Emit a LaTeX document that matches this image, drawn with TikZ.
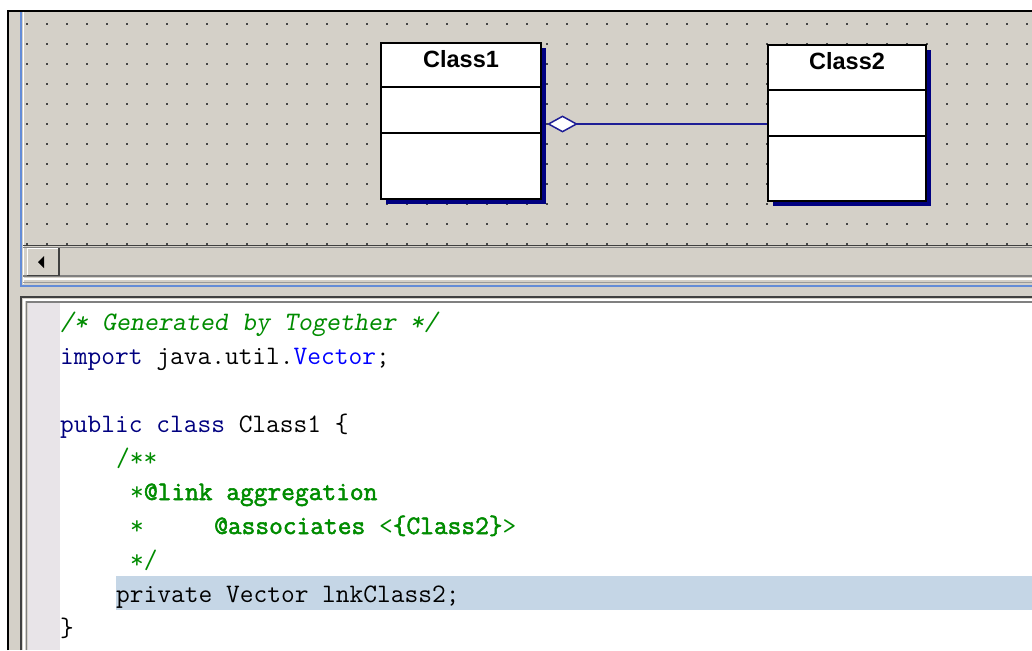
\documentclass[tikz,border=0pt]{standalone}
\usepackage{fontspec}
\setmainfont{Liberation Sans}
\newfontfamily\codeheavy{Latin Modern Mono}[FakeBold=2]
\usetikzlibrary{arrows.meta,calc,shadows}
\definecolor{wingray}{RGB}{212,208,200}
\definecolor{dotgray}{RGB}{70,70,70}
\definecolor{darkedge}{RGB}{64,64,64}
\definecolor{midedge}{RGB}{128,128,128}
\definecolor{frameblue}{RGB}{100,140,215}
\definecolor{shadowblue}{RGB}{0,0,128}
\definecolor{linkblue}{RGB}{30,30,150}
\definecolor{gutter}{RGB}{232,228,232}
\definecolor{hilite}{RGB}{197,214,230}
\definecolor{cgreen}{RGB}{0,140,0}
\definecolor{kwnavy}{RGB}{0,0,128}
\definecolor{typeblue}{RGB}{0,0,255}
\newcommand{\hv}[1]{{\codeheavy\fontsize{26.67}{30}\selectfont #1}}
\tikzset{
  classbox/.style={rectangle, draw=black, line width=2pt, fill=white, inner sep=0pt,
    drop shadow={shadow xshift=5pt, shadow yshift=-5pt, fill=shadowblue, opacity=1}},
  divider/.style={line width=1.5pt, black},
  classtitle/.style={anchor=base, inner sep=0pt, font=\fontsize{23.5}{24}\selectfont\bfseries},
  assoc/.style={linkblue, line width=1.5pt, -{Diamond[fill=white, length=31pt, width=17pt]}},
  code/.style={anchor=base west, inner sep=0pt, font=\ttfamily\fontsize{26.67}{30}\selectfont},
  griddot/.style={fill=dotgray}
}
\begin{document}
\begin{tikzpicture}[x=1pt,y=-1pt]
\useasboundingbox (0,0) rectangle (1032,650);
\fill[white] (0,0) rectangle (1032,650);
% window background
\fill[wingray] (8,11) rectangle (1032,650);
\draw[black, line width=2.2pt] (8,650) -- (8,11) -- (1032,11);
% grid dots
\foreach \gx in {27,47,...,1027} {
  \foreach \gy in {24,44,...,244} {
    \fill[griddot] (\gx-1,\gy-1) rectangle (\gx+1,\gy+1);
  }
}
% diagram frame
\draw[frameblue, line width=2pt] (21,12) -- (21,286) -- (1032,286);
\draw[white, line width=1pt] (23.5,12) -- (23.5,283.5);
% scrollbar
\draw[darkedge, line width=1.5pt] (23,245.5) -- (1032,245.5);
\draw[midedge, line width=1pt] (23,247.5) -- (1032,247.5);
\draw[midedge, line width=1.5pt] (23,276) -- (1032,276);
\draw[white, line width=1.5pt] (23,279) -- (1032,279);
\draw[midedge!80, line width=1pt] (23,282.5) -- (1032,282.5);
% scroll button
\fill[wingray] (27,248) rectangle (60,275);
\draw[white, line width=1pt] (27.5,275) -- (27.5,248.5) -- (59,248.5);
\draw[darkedge, line width=1.5pt] (59,248) -- (59,275.5) -- (27,275.5);
\fill[black] (44,256) -- (38,262) -- (44,268) -- cycle;
% code panel frame
\draw[darkedge, line width=2pt] (20.5,650) -- (20.5,296.5) -- (1032,296.5);
\draw[white, line width=2pt] (23.5,650) -- (23.5,299.5) -- (1032,299.5);
\draw[midedge, line width=1.5pt] (26.5,650) -- (26.5,302) -- (1032,302);
\fill[gutter] (27.5,303) rectangle (60,650);
\fill[white] (60,303) rectangle (1032,650);
% highlighted line
\fill[hilite] (116,576) rectangle (1032,610);
% classes
\node[classbox, minimum width=160pt, minimum height=156pt] (c1) at (461,121) {};
\node[classbox, minimum width=158pt, minimum height=156pt] (c2) at (847,123) {};
\draw[divider] ($(c1.north west)+(0,45)$) -- ($(c1.north east)+(0,45)$);
\draw[divider] ($(c1.north west)+(0,91)$) -- ($(c1.north east)+(0,91)$);
\draw[divider] ($(c2.north west)+(0,46)$) -- ($(c2.north east)+(0,46)$);
\draw[divider] ($(c2.north west)+(0,92)$) -- ($(c2.north east)+(0,92)$);
\node[classtitle] (t1) at ($(c1.north)+(0,26)$) {Class1};
\node[classtitle] (t2) at ($(c2.north)+(0,26)$) {Class2};
% aggregation
\draw[assoc] ($(c2.west)+(0,1)$) -- ($(c1.east)+(5,3)$);
% code
\node[code] (l1) at (60,330) {\color{cgreen}\slshape /* Generated by Together */};
\node[code] (l2) at (60,364) {\textcolor{kwnavy}{import} java.util.\textcolor{typeblue}{Vector};};
\node[code] (l4) at (60,432) {\textcolor{kwnavy}{public class} Class1 \{};
\node[code] (l5) at (116,466) {\textcolor{cgreen}{/**}};
\node[code] (l6) at (130,500) {\color{cgreen}*\hv{@link aggregation}};
\node[code] (l7) at (130,534) {\textcolor{cgreen}{*}};
\node[code] (l7b) at (214,534) {\color{cgreen}\hv{@associates} <\hv{\{Class2\}}>};
\node[code] (l8) at (130,568) {\textcolor{cgreen}{*/}};
\node[code] (l9) at (116,602) {private Vector lnkClass2;};
\node[code] (l10) at (60,636) {\}};
\end{tikzpicture}
\end{document}
